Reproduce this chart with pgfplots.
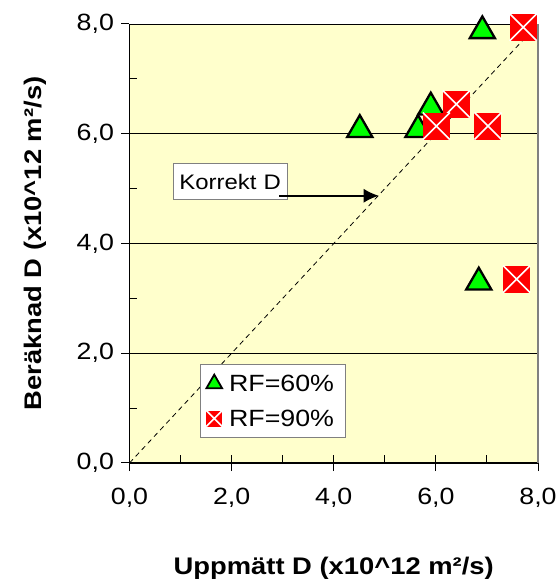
\documentclass[border=0pt]{standalone}
\usepackage{fontspec}
\setmainfont{Liberation Sans}[FakeStretch=1.14]
\usepackage{pgfplots}
\pgfplotsset{compat=1.18}
\usetikzlibrary{arrows.meta}

\definecolor{bgyellow}{HTML}{FFFFCC}
\definecolor{mkgreen}{HTML}{00FF00}
\definecolor{mkred}{HTML}{FF0000}
\definecolor{bordergray}{HTML}{808080}

\pgfdeclareplotmark{xsquare}{%
  \pgfpathrectangle{\pgfqpoint{-\pgfplotmarksize}{-\pgfplotmarksize}}{\pgfqpoint{2\pgfplotmarksize}{2\pgfplotmarksize}}%
  \pgfsetfillcolor{mkred}\pgfusepath{fill}%
  \pgfsetstrokecolor{white}\pgfsetlinewidth{1.6pt}%
  \pgfpathmoveto{\pgfqpoint{-\pgfplotmarksize}{-\pgfplotmarksize}}%
  \pgfpathlineto{\pgfqpoint{\pgfplotmarksize}{\pgfplotmarksize}}%
  \pgfpathmoveto{\pgfqpoint{-\pgfplotmarksize}{\pgfplotmarksize}}%
  \pgfpathlineto{\pgfqpoint{\pgfplotmarksize}{-\pgfplotmarksize}}%
  \pgfusepath{stroke}%
}

\newcommand\ft{\fontsize{23.5pt}{28pt}\selectfont}
\newcommand\fa{\fontsize{21pt}{25pt}\selectfont}
\newcommand\fb{\fontsize{24pt}{29pt}\selectfont\bfseries}

\pgfplotstableread{
x y
6.91 7.94
4.51 6.14
5.65 6.14
5.90 6.55
6.84 3.36
}\rfsixty
\pgfplotstableread{
x y
7.71 7.94
6.40 6.54
6.01 6.14
7.02 6.14
7.58 3.35
}\rfninety

\begin{document}
\begin{tikzpicture}
\begin{axis}[
  scale only axis, width=408.5pt, height=439pt,
  xmin=0, xmax=8, ymin=0, ymax=8,
  clip=false,
  axis background/.style={fill=bgyellow},
  axis x line*=bottom, axis y line*=left,
  axis line style={line width=1.3pt, black},
  xtick={0,2,4,6,8}, ytick={0,2,4,6,8},
  tick align=outside, major tick length=8pt,
  tick style={black, line width=1pt},
  extra x ticks={0,1,2,3,4,5,6,7,8}, extra x tick labels={},
  extra x tick style={tick align=inside, major tick length=7.5pt, grid=none},
  extra y ticks={1,3,5,7}, extra y tick labels={},
  extra y tick style={tick align=inside, major tick length=7pt, grid=none},
  ymajorgrids, major grid style={black, line width=0.9pt},
  /pgf/number format/fixed, /pgf/number format/fixed zerofill,
  /pgf/number format/precision=1, /pgf/number format/use comma,
  /pgf/number format/assume math mode=true,
  tick label style={font=\ft},
  yticklabel style={xshift=-4pt},
  xticklabel style={yshift=-14pt},
  xlabel={Uppmätt D (x10\textasciicircum 12 m²/s)},
  ylabel={Beräknad D (x10\textasciicircum 12 m²/s)},
  xlabel style={font=\fb, at={(axis description cs:0.5,-0.2551)}, anchor=base},
  ylabel style={font=\fb, at={(axis description cs:-0.2142,0.5)}, anchor=base},
  legend style={at={(axis cs:1.38,1.80)}, anchor=north west, draw=bordergray,
    fill=white, line width=1pt, font=\ft, row sep=13pt, inner xsep=5pt, inner ysep=8pt,
    nodes={inner xsep=6pt}},
  legend cell align=left,
]
\addplot[black, dashed, line width=0.8pt, dash pattern=on 5pt off 4pt, forget plot] coordinates {(0,0) (8,8)};
\addplot[only marks, mark=triangle*, mark size=14.5pt, fill=mkgreen, draw=black, line width=2.3pt,
  mark options={yshift=-3.6pt}, forget plot] table[x=x,y=y] {\rfsixty};
\addplot[only marks, mark=xsquare, mark size=13.5pt, forget plot] table[x=x,y=y] {\rfninety};

\node[draw=bordergray, fill=white, line width=1pt, anchor=north west, inner xsep=6pt, inner ysep=0pt,
  text width=102pt, minimum height=36pt, align=left, font=\fa] at (axis cs:0.851,5.464) {\mbox{Korrekt D}};
\draw[black, line width=1.5pt, -{Latex[length=15pt, width=14pt]}] (axis cs:2.93,4.87) -- (axis cs:4.88,4.87);
\draw[bordergray, line width=2.5pt] (rel axis cs:1,0) -- (rel axis cs:1,1);

\addlegendimage{only marks, mark=triangle*, mark size=9pt, fill=mkgreen, draw=black, line width=1.8pt}
\addlegendentry{RF=60\%}
\addlegendimage{only marks, mark=xsquare, mark size=8pt}
\addlegendentry{RF=90\%}

\coordinate (SW) at (rel axis cs:0,0);
\coordinate (NE) at (rel axis cs:1,1);
\end{axis}
\pgfresetboundingbox
\path[use as bounding box] ([shift={(-129.5pt,-118pt)}]SW) rectangle ([shift={(18pt,24pt)}]NE);
\end{tikzpicture}
\end{document}
